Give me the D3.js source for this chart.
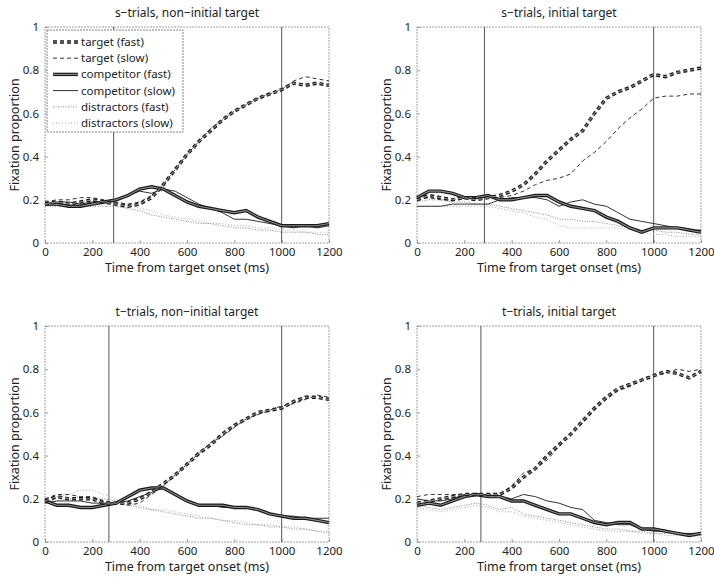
<!DOCTYPE html>
<html lang="en">
<head>
<meta charset="UTF-8">
<title>Fixation proportion</title>
<script src="https://d3js.org/d3.v7.min.js"></script>
<style>
    body { margin: 0; background: #fff; }
    text { font-family: "Noto Sans", sans-serif; fill: #222; }
</style>
</head>
<body>
<svg id="chart" width="714" height="577"></svg>
<script>

    // time points (ms)
    const times = [0, 50, 100, 150, 200, 250, 300, 350, 400, 450, 500, 550, 600,
        650, 700, 750, 800, 850, 900, 950, 1000, 1050, 1100, 1150, 1200];

    const seriesNames = ["target (fast)", "target (slow)", "competitor (fast)",
        "competitor (slow)", "distractors (fast)", "distractors (slow)"];

    const panelTitles = ["s\u2212trials, non\u2212initial target", "s\u2212trials, initial target",
        "t\u2212trials, non\u2212initial target", "t\u2212trials, initial target"];

    // vertical markers (ms) for each panel
    const markerStart = [290, 285, 270, 270];
    const markerEnd = [1000, 1000, 1000, 1000];

    const xTicks = [0, 200, 400, 600, 800, 1000, 1200];
    const yTicks = [0, 0.2, 0.4, 0.6, 0.8, 1];

    // s-trials, non-initial target
    const p1TargetFast = [0.18,0.19,0.18,0.19,0.20,0.19,0.18,0.17,0.18,0.21,0.27,0.34,0.41,0.47,0.52,0.57,0.61,0.64,0.67,0.69,0.71,0.74,0.73,0.74,0.73];
    const p1TargetSlow = [0.19,0.20,0.20,0.21,0.21,0.20,0.19,0.18,0.19,0.22,0.27,0.34,0.41,0.47,0.53,0.57,0.61,0.64,0.67,0.69,0.71,0.75,0.77,0.76,0.75];
    const p1CompFast   = [0.18,0.18,0.17,0.17,0.18,0.19,0.20,0.22,0.25,0.26,0.25,0.22,0.19,0.17,0.16,0.15,0.14,0.15,0.12,0.10,0.08,0.08,0.08,0.08,0.09];
    const p1CompSlow   = [0.18,0.19,0.19,0.18,0.19,0.19,0.20,0.22,0.24,0.23,0.25,0.24,0.21,0.18,0.16,0.14,0.11,0.11,0.10,0.09,0.08,0.07,0.08,0.07,0.08];
    const p1DistFast   = [0.17,0.17,0.17,0.17,0.17,0.17,0.17,0.16,0.15,0.13,0.12,0.11,0.10,0.09,0.09,0.08,0.07,0.07,0.06,0.06,0.05,0.05,0.05,0.04,0.04];
    const p1DistSlow   = [0.18,0.18,0.18,0.19,0.19,0.19,0.18,0.18,0.16,0.15,0.13,0.12,0.11,0.10,0.09,0.09,0.08,0.08,0.07,0.07,0.06,0.06,0.05,0.05,0.05];

    // s-trials, initial target
    const p2TargetFast = [0.20,0.22,0.21,0.20,0.21,0.20,0.21,0.22,0.24,0.27,0.32,0.38,0.43,0.48,0.52,0.60,0.67,0.70,0.72,0.75,0.78,0.77,0.79,0.80,0.81];
    const p2TargetSlow = [0.20,0.21,0.20,0.20,0.21,0.21,0.21,0.21,0.22,0.24,0.27,0.29,0.30,0.32,0.38,0.42,0.47,0.53,0.58,0.62,0.67,0.68,0.68,0.69,0.69];
    const p2CompFast   = [0.21,0.24,0.24,0.23,0.21,0.21,0.22,0.20,0.20,0.21,0.22,0.22,0.19,0.17,0.16,0.15,0.12,0.10,0.07,0.05,0.07,0.07,0.07,0.06,0.05];
    const p2CompSlow   = [0.17,0.17,0.17,0.18,0.18,0.18,0.18,0.20,0.21,0.21,0.21,0.20,0.17,0.19,0.20,0.18,0.17,0.14,0.11,0.10,0.09,0.08,0.07,0.06,0.06];
    const p2DistFast   = [0.19,0.20,0.20,0.19,0.19,0.18,0.18,0.17,0.16,0.15,0.14,0.13,0.11,0.11,0.10,0.10,0.09,0.08,0.07,0.06,0.06,0.05,0.05,0.04,0.04];
    const p2DistSlow   = [0.17,0.17,0.17,0.17,0.17,0.17,0.17,0.16,0.15,0.14,0.12,0.11,0.08,0.07,0.07,0.07,0.07,0.07,0.06,0.05,0.04,0.04,0.03,0.03,0.03];

    // t-trials, non-initial target
    const p3TargetFast = [0.19,0.21,0.20,0.20,0.20,0.18,0.18,0.18,0.20,0.23,0.27,0.31,0.36,0.41,0.45,0.50,0.54,0.57,0.60,0.61,0.62,0.65,0.67,0.67,0.66];
    const p3TargetSlow = [0.20,0.22,0.22,0.21,0.21,0.19,0.18,0.17,0.18,0.22,0.26,0.31,0.36,0.41,0.46,0.49,0.53,0.57,0.59,0.61,0.63,0.64,0.66,0.68,0.67];
    const p3CompFast   = [0.19,0.17,0.17,0.16,0.16,0.17,0.18,0.21,0.24,0.25,0.25,0.22,0.19,0.17,0.17,0.17,0.16,0.16,0.15,0.13,0.12,0.11,0.11,0.10,0.09];
    const p3CompSlow   = [0.18,0.19,0.19,0.19,0.18,0.18,0.18,0.19,0.21,0.23,0.25,0.22,0.19,0.17,0.17,0.16,0.16,0.16,0.15,0.13,0.12,0.12,0.11,0.11,0.11];
    const p3DistFast   = [0.19,0.19,0.20,0.21,0.20,0.20,0.19,0.17,0.16,0.15,0.14,0.13,0.12,0.11,0.11,0.10,0.09,0.08,0.08,0.07,0.07,0.06,0.06,0.05,0.04];
    const p3DistSlow   = [0.20,0.21,0.22,0.24,0.24,0.22,0.20,0.18,0.17,0.15,0.15,0.14,0.13,0.12,0.11,0.10,0.10,0.09,0.08,0.08,0.07,0.07,0.06,0.05,0.05];

    // t-trials, initial target
    const p4TargetFast = [0.18,0.19,0.20,0.21,0.22,0.22,0.22,0.22,0.25,0.30,0.34,0.40,0.45,0.50,0.56,0.62,0.67,0.71,0.73,0.75,0.77,0.79,0.78,0.76,0.79];
    const p4TargetSlow = [0.21,0.22,0.22,0.22,0.22,0.22,0.22,0.22,0.26,0.32,0.34,0.38,0.44,0.50,0.55,0.61,0.66,0.70,0.72,0.75,0.77,0.78,0.80,0.79,0.80];
    const p4CompFast   = [0.17,0.18,0.17,0.19,0.21,0.22,0.21,0.21,0.19,0.19,0.17,0.15,0.13,0.13,0.11,0.09,0.08,0.09,0.09,0.06,0.06,0.05,0.04,0.03,0.04];
    const p4CompSlow   = [0.20,0.19,0.19,0.20,0.22,0.22,0.22,0.21,0.20,0.22,0.21,0.19,0.18,0.16,0.15,0.10,0.09,0.08,0.08,0.06,0.05,0.05,0.04,0.04,0.04];
    const p4DistFast   = [0.17,0.16,0.15,0.16,0.17,0.18,0.17,0.15,0.16,0.13,0.12,0.11,0.10,0.09,0.08,0.07,0.06,0.06,0.05,0.05,0.04,0.04,0.04,0.03,0.03];
    const p4DistSlow   = [0.16,0.15,0.14,0.15,0.16,0.17,0.16,0.14,0.14,0.12,0.11,0.10,0.09,0.08,0.07,0.06,0.05,0.05,0.05,0.04,0.04,0.03,0.03,0.03,0.02];

    const panelSeries = [
        [p1TargetFast, p1TargetSlow, p1CompFast, p1CompSlow, p1DistFast, p1DistSlow],
        [p2TargetFast, p2TargetSlow, p2CompFast, p2CompSlow, p2DistFast, p2DistSlow],
        [p3TargetFast, p3TargetSlow, p3CompFast, p3CompSlow, p3DistFast, p3DistSlow],
        [p4TargetFast, p4TargetSlow, p4CompFast, p4CompSlow, p4DistFast, p4DistSlow]
    ];

    // line styles, in the same order as seriesNames
    const styles = [
        {thick: true, dash: "4,3"},
        {thick: false, dash: "4,3", color: "#333", width: 1},
        {thick: true, dash: null},
        {thick: false, dash: null, color: "#333", width: 1},
        {thick: false, dash: "1,1.5", color: "#888", width: 1},
        {thick: false, dash: "1,2", color: "#aaa", width: 1}
    ];

    const svg = d3.select("#chart");

    const W = 284, H = 216;
    const origins = [[45, 27], [417, 27], [45, 326], [417, 326]];

    function drawSeries(g, path, st) {
        if (st.thick) {
            g.append("path").attr("d", path)
                .attr("fill", "none").attr("stroke", "#1a1a1a").attr("stroke-width", 3.4)
                .attr("stroke-dasharray", st.dash);
            g.append("path").attr("d", path)
                .attr("fill", "none").attr("stroke", "#8a8a8a").attr("stroke-width", 1.1)
                .attr("stroke-dasharray", st.dash);
        } else {
            g.append("path").attr("d", path)
                .attr("fill", "none").attr("stroke", st.color).attr("stroke-width", st.width)
                .attr("stroke-dasharray", st.dash);
        }
    }

    panelSeries.forEach(function (series, i) {
        const [ox, oy] = origins[i];
        const g = svg.append("g").attr("transform", `translate(${ox},${oy})`);

        const x = d3.scaleLinear().domain([0, 1200]).range([0, W]);
        const y = d3.scaleLinear().domain([0, 1]).range([H, 0]);

        // box
        g.append("rect")
            .attr("width", W).attr("height", H)
            .attr("fill", "none").attr("stroke", "#888").attr("stroke-width", 0.8)
            .attr("stroke-dasharray", "2,1");

        // ticks (inward, MATLAB style)
        const xAxis = d3.axisBottom(x).tickValues(xTicks).tickSize(-3).tickPadding(5)
            .tickFormat(d3.format("d"));
        const yAxis = d3.axisLeft(y).tickValues(yTicks).tickSize(-3).tickPadding(6)
            .tickFormat(d => d === 0 || d === 1 ? d : d3.format(".1f")(d));

        const gx = g.append("g").attr("transform", `translate(0,${H})`).call(xAxis);
        const gy = g.append("g").call(yAxis);
        [gx, gy].forEach(a => {
            a.select(".domain").remove();
            a.selectAll("line").attr("stroke", "#888").attr("stroke-width", 0.8);
            a.selectAll("text").attr("font-size", 11.5).attr("fill", "#222")
                .attr("font-family", "Noto Sans, sans-serif");
        });

        // vertical marker lines
        [markerStart[i], markerEnd[i]].forEach(m => {
            g.append("line")
                .attr("x1", x(m)).attr("x2", x(m))
                .attr("y1", 0).attr("y2", H)
                .attr("stroke", "#444").attr("stroke-width", 0.9);
        });

        const line = d3.line()
            .x((d, j) => x(times[j]))
            .y(d => y(d));

        // draw distractors first, then competitors, then targets
        [5, 4, 3, 2, 1, 0].forEach(k => drawSeries(g, line(series[k]), styles[k]));

        // title and axis labels
        g.append("text")
            .attr("x", W / 2).attr("y", -10)
            .attr("text-anchor", "middle").attr("font-size", 12)
            .text(panelTitles[i]);

        g.append("text")
            .attr("x", W / 2).attr("y", H + 29)
            .attr("text-anchor", "middle").attr("font-size", 12.5)
            .text("Time from target onset (ms)");

        g.append("text")
            .attr("transform", `translate(-26,${H / 2}) rotate(-90)`)
            .attr("text-anchor", "middle").attr("font-size", 12.5)
            .text("Fixation proportion");

        // legend only in the first panel
        if (i === 0) {
            const lg = g.append("g").attr("transform", "translate(2,3)");
            lg.append("rect")
                .attr("width", 136).attr("height", 102)
                .attr("fill", "#fff").attr("stroke", "#666").attr("stroke-width", 0.8)
                .attr("stroke-dasharray", "2,1");
            seriesNames.forEach((name, k) => {
                const ly = 12 + k * 16.2;
                drawSeries(lg, `M6,${ly}H31`, styles[k]);
                lg.append("text")
                    .attr("x", 34).attr("y", ly + 4)
                    .attr("font-size", 11.5)
                    .text(name);
            });
        }
    });

</script>
</body>
</html>
